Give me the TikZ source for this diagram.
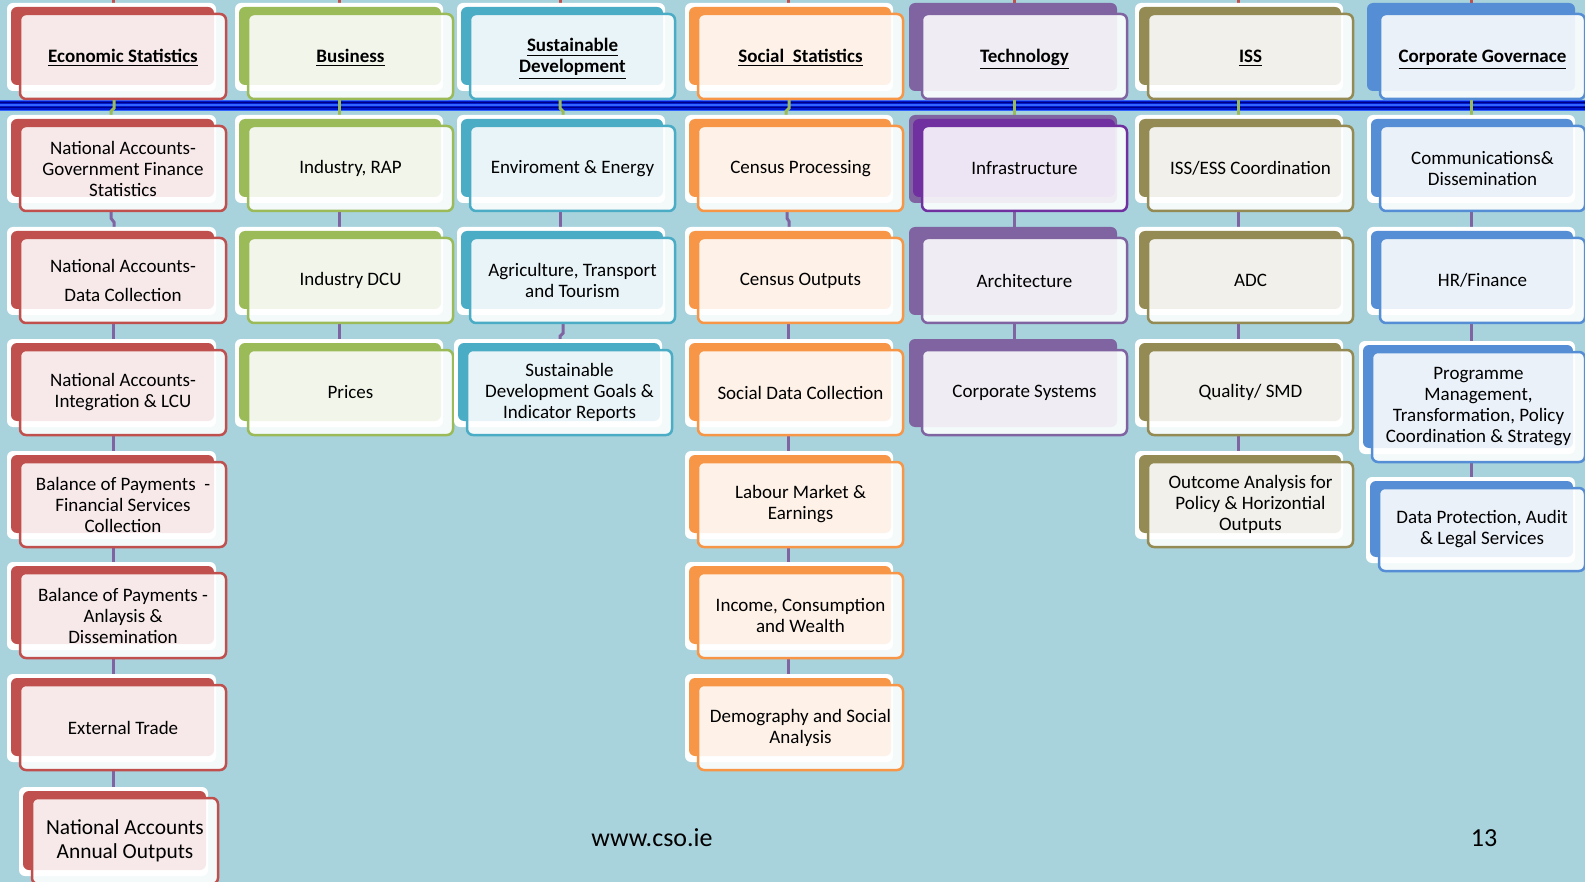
\documentclass[tikz,border=0pt]{standalone}
\usepackage{fontspec}
\setmainfont{Carlito}
\usetikzlibrary{calc}
\pgfdeclarelayer{bg}
\pgfsetlayers{bg,main}
\definecolor{bgc}{RGB}{168,211,221}
\definecolor{cred}{HTML}{C0504D}
\definecolor{cgreen}{HTML}{9BBB59}
\definecolor{cteal}{HTML}{4BACC6}
\definecolor{corange}{HTML}{F79646}
\definecolor{cpurple}{HTML}{8064A2}
\definecolor{cdpurple}{HTML}{7030A0}
\definecolor{colive}{HTML}{948A54}
\definecolor{cblue}{HTML}{558ED5}
\definecolor{band}{RGB}{0,24,205}
\definecolor{banddark}{RGB}{0,0,130}
\definecolor{bandlight}{RGB}{50,100,255}
\tikzset{
 frontbox/.style={draw, line width=1.25pt, rounded corners=3pt, fill=white, fill opacity=0.88, text opacity=1, inner sep=0pt, align=center, font=\fontsize{9.5}{10.5}\selectfont},
 bigtext/.style={font=\fontsize{10.7}{12}\selectfont},
 link/.style={cpurple, line width=1.5pt},
 hlink/.style={cgreen, line width=1.5pt},
 toplink/.style={cred, line width=1.5pt},
 foot/.style={font=\fontsize{13}{15}\selectfont, inner sep=0pt},
}
% [#1 options], #2 name, #3 x0, #4 y0, #5 w, #6 h, #7 colour, #8 back colour, #9 text
\newcommand\orgbox[9][]{%
  \fill[#8,rounded corners=3pt] (#3-13,#4-11) rectangle (#3+#5-10,#4+#6-8);
  \fill[#7,rounded corners=3pt] (#3-9,#4-7) rectangle (#3+#5-12,#4+#6-14);
  \node[frontbox,draw=#7,minimum width=#5*0.5pt,minimum height=#6*0.5pt,#1] (#2) at (#3+#5/2,#4+#6/2) {#9};
}
\newcommand\hdr[1]{\raisebox{0pt}[8pt][2pt]{\bfseries\underline{#1}}}
\begin{document}
\begin{tikzpicture}[x=0.5pt,y=-0.5pt]
\useasboundingbox (0,0) rectangle (1585,882);
\coordinate (ex) at (113,0);
\coordinate (bx) at (339,0);
\coordinate (sx) at (560,0);
\coordinate (ox) at (788,0);
\coordinate (tx) at (1014,0);
\coordinate (ix) at (1238,0);
\coordinate (cx) at (1471,0);
% Economic Statistics
\orgbox{e0}{20}{14}{206}{85}{cred}{white}{\hdr{Economic Statistics}}
\orgbox{e1}{20}{126}{206}{85}{cred}{white}{National Accounts-\\Government Finance\\Statistics}
\orgbox{e2}{20}{238}{206}{85}{cred}{white}{National Accounts-\\[4pt]Data Collection}
\orgbox{e3}{20}{350}{206}{85}{cred}{white}{National Accounts-\\Integration \& LCU}
\orgbox{e4}{20}{462}{206}{85}{cred}{white}{Balance of Payments~~-\\Financial Services\\Collection}
\orgbox{e5}{20}{573}{206}{85}{cred}{white}{Balance of Payments -\\Anlaysis \&\\Dissemination}
\orgbox{e6}{20}{685}{206}{85}{cred}{white}{External Trade}
\orgbox[bigtext]{e7}{32}{798}{186}{86}{cred}{white}{National Accounts\\Annual Outputs}
% Business
\orgbox{b0}{248}{14}{205}{85}{cgreen}{white}{\hdr{Business}}
\orgbox{b1}{248}{126}{205}{85}{cgreen}{white}{Industry, RAP}
\orgbox{b2}{248}{238}{205}{85}{cgreen}{white}{Industry DCU}
\orgbox{b3}{248}{350}{205}{85}{cgreen}{white}{Prices}
% Sustainable Development
\orgbox{s0}{470}{14}{205}{85}{cteal}{white}{\hdr{Sustainable}\\\hdr{Development}}
\orgbox{s1}{470}{126}{205}{85}{cteal}{white}{Enviroment \& Energy}
\orgbox{s2}{470}{238}{205}{85}{cteal}{white}{Agriculture, Transport\\and Tourism}
\orgbox{s3}{467}{350}{205}{85}{cteal}{white}{Sustainable\\Development Goals \&\\Indicator Reports}
% Social Statistics
\orgbox{o0}{698}{14}{205}{85}{corange}{white}{\hdr{Social~ Statistics}}
\orgbox{o1}{698}{126}{205}{85}{corange}{white}{Census Processing}
\orgbox{o2}{698}{238}{205}{85}{corange}{white}{Census Outputs}
\orgbox{o3}{698}{350}{205}{85}{corange}{white}{Social Data Collection}
\orgbox{o4}{698}{462}{205}{85}{corange}{white}{Labour Market \&\\Earnings}
\orgbox{o5}{698}{573}{205}{85}{corange}{white}{Income, Consumption\\and Wealth}
\orgbox{o6}{698}{685}{205}{85}{corange}{white}{Demography and Social\\Analysis}
% Technology
\orgbox{t0}{922}{14}{205}{85}{cpurple}{cpurple}{\hdr{Technology}}
\orgbox{t1}{922}{126}{205}{85}{cdpurple}{cpurple}{Infrastructure}
\orgbox{t2}{922}{238}{205}{85}{cpurple}{cpurple}{Architecture}
\orgbox{t3}{922}{350}{205}{85}{cpurple}{cpurple}{Corporate Systems}
% ISS
\orgbox{i0}{1148}{14}{205}{85}{colive}{white}{\hdr{ISS}}
\orgbox{i1}{1148}{126}{205}{85}{colive}{white}{ISS/ESS Coordination}
\orgbox{i2}{1148}{238}{205}{85}{colive}{white}{ADC}
\orgbox{i3}{1148}{350}{205}{85}{colive}{white}{Quality/ SMD}
\orgbox{i4}{1148}{462}{205}{85}{colive}{white}{Outcome Analysis for\\Policy \& Horizontial\\Outputs}
% Corporate Governance
\orgbox{c0}{1380}{14}{205}{85}{cblue}{cblue}{\hdr{Corporate Governace}}
\orgbox{c1}{1380}{126}{205}{85}{cblue}{white}{Communications\&\\Dissemination}
\orgbox{c2}{1380}{238}{205}{85}{cblue}{white}{HR/Finance}
\orgbox{c3}{1372}{352}{213}{110}{cblue}{white}{Programme\\Management,\\Transformation, Policy\\Coordination \& Strategy}
\orgbox{c4}{1379}{488}{206}{83}{cblue}{white}{Data Protection, Audit\\\& Legal Services}
% footer
\node[foot] (url) at (652,838) {www.cso.ie};
\node[foot] (page) at (1484,838) {13};
\begin{pgfonlayer}{bg}
\fill[bgc] (0,0) rectangle (1585,882);
\fill[band] (0,100) rectangle (1585,111);
\draw[bandlight, line width=0.5pt] (0,100.5) -- (1585,100.5);
\draw[banddark, line width=0.8pt] (0,102.5) -- (1585,102.5);
\draw[bandlight, line width=0.6pt] (0,105) -- (1585,105);
\draw[banddark, line width=0.8pt] (0,107.5) -- (1585,107.5);
\draw[bandlight, line width=0.5pt] (0,110.3) -- (1585,110.3);
% top red links
\foreach \c/\h in {ex/e0,bx/b0,sx/s0,ox/o0,tx/t0,ix/i0,cx/c0}
  \draw[toplink] (\c) -- (\h.north -| \c);
% header to first row
\draw[hlink] (e0.south -| ex) ++(1,0) -- ++(0,8) -- ++(-3,3) -- ($(e1.north -| ex)+(-2,0)$);
\draw[hlink] (b0.south -| bx) -- (b1.north -| bx);
\draw[hlink] (s0.south -| sx) -- ++(0,8) -- ++(3,3) -- ($(s1.north -| sx)+(3,0)$);
\draw[hlink] (o0.south -| ox) ++(1,0) -- ++(0,8) -- ++(-3,3) -- ($(o1.north -| ox)+(-2,0)$);
\draw[hlink] (t0.south -| tx) -- (t1.north -| tx);
\draw[hlink] (i0.south -| ix) -- (i1.north -| ix);
\draw[hlink] (c0.south -| cx) -- (c1.north -| cx);
% vertical links
\draw[link] (e1.south -| ex) ++(-2,0) -- ++(0,6) -- ++(3,4) -- ($(e2.north -| ex)+(1,0)$);
\foreach \a/\b in {e2/e3,e3/e4,e4/e5,e5/e6,e6/e7}
  \draw[link] (\a.south -| ex) -- (\b.north -| ex);
\foreach \a/\b in {b1/b2,b2/b3}
  \draw[link] (\a.south -| bx) -- (\b.north -| bx);
\draw[link] (s1.south -| sx) -- (s2.north -| sx);
\draw[link] (s2.south -| sx) ++(3,0) -- ++(0,9) -- ++(-3,3) -- (s3.north -| sx);
\draw[link] (o1.south -| ox) ++(-1,0) -- ++(0,6) -- ++(2,3) -- ($(o2.north -| ox)+(1,0)$);
\foreach \a/\b in {o2/o3,o3/o4,o4/o5,o5/o6}
  \draw[link] (\a.south -| ox) -- (\b.north -| ox);
\foreach \a/\b in {t1/t2,t2/t3}
  \draw[link] (\a.south -| tx) -- (\b.north -| tx);
\foreach \a/\b in {i1/i2,i2/i3,i3/i4}
  \draw[link] (\a.south -| ix) -- (\b.north -| ix);
\foreach \a/\b in {c1/c2,c2/c3,c3/c4}
  \draw[link] (\a.south -| cx) -- (\b.north -| cx);
\end{pgfonlayer}
\end{tikzpicture}
\end{document}
